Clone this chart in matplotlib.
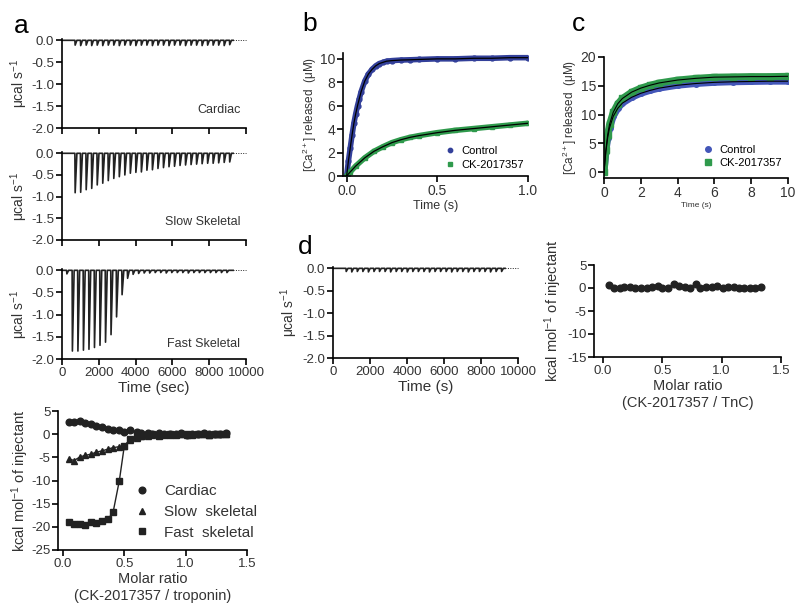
import numpy as np
import matplotlib
matplotlib.use("Agg")
import matplotlib.pyplot as plt

plt.rcParams['font.family'] = ['Liberation Sans', 'DejaVu Sans']
plt.rcParams['mathtext.default'] = 'regular'
plt.rcParams['axes.unicode_minus'] = False

# --- panel a: ITC thermograms (injection time in s, peak heat rate in ucal/s)
inj_times = [700, 1000, 1300, 1600, 1900, 2200, 2500, 2800, 3100, 3400,
             3700, 4000, 4300, 4600, 4900, 5200, 5500, 5800, 6100, 6400,
             6700, 7000, 7300, 7600, 7900, 8200, 8500, 8800, 9100]
cardiac_peaks = [-0.11, -0.12, -0.11, -0.12, -0.11, -0.12, -0.11, -0.11, -0.12, -0.11,
                 -0.11, -0.12, -0.11, -0.11, -0.12, -0.11, -0.11, -0.12, -0.11, -0.11,
                 -0.12, -0.11, -0.11, -0.12, -0.11, -0.11, -0.11, -0.12, -0.10]
slow_peaks = [-0.91, -0.90, -0.84, -0.81, -0.73, -0.69, -0.63, -0.58, -0.54, -0.50,
              -0.46, -0.44, -0.43, -0.39, -0.38, -0.35, -0.33, -0.31, -0.30, -0.28,
              -0.27, -0.26, -0.25, -0.24, -0.23, -0.23, -0.22, -0.21, -0.20]
fast_times = [250, 550, 850, 1150, 1450, 1750, 2050, 2350, 2650, 2950,
              3250, 3550, 3850, 4150, 4450, 4750, 5050, 5350, 5650, 5950,
              6250, 6550, 6850, 7150, 7450, 7750, 8050, 8350, 8650, 8950]
fast_peaks = [-0.08, -1.82, -1.82, -1.80, -1.78, -1.74, -1.69, -1.62, -1.45, -1.05,
              -0.55, -0.18, -0.09, -0.07, -0.06, -0.06, -0.05, -0.05, -0.06, -0.05,
              -0.05, -0.05, -0.06, -0.05, -0.05, -0.05, -0.05, -0.05, -0.05, -0.05]
d_peaks = [-0.07, -0.08, -0.07, -0.07, -0.08, -0.07, -0.07, -0.07, -0.08, -0.07,
           -0.07, -0.08, -0.07, -0.07, -0.07, -0.08, -0.07, -0.07, -0.07, -0.08,
           -0.07, -0.07, -0.08, -0.07, -0.07, -0.07, -0.08, -0.07, -0.07]

# --- isotherms (molar ratio vs kcal/mol of injectant)
ratio = [0.05, 0.09, 0.14, 0.18, 0.23, 0.27, 0.32, 0.37, 0.41, 0.46,
         0.50, 0.55, 0.60, 0.64, 0.69, 0.73, 0.78, 0.82, 0.87, 0.92,
         0.96, 1.01, 1.05, 1.10, 1.15, 1.19, 1.24, 1.28, 1.33]
cardiac_iso = [2.7, 2.6, 2.8, 2.5, 2.2, 1.8, 1.5, 1.2, 1.0, 0.8,
               0.5, 0.9, 0.4, 0.2, 0.3, 0.1, 0.2, 0.0, 0.1, 0.0,
               0.2, -0.1, 0.0, 0.1, 0.3, 0.0, 0.1, 0.0, 0.2]
slow_iso = [-5.3, -5.7, -4.9, -4.6, -4.3, -3.9, -3.6, -3.2, -2.9, -2.7,
            -2.5, -1.2, -0.8, -0.5, -0.3, -0.2, -0.1, 0.0, -0.2, 0.0,
            0.1, -0.1, 0.0, 0.1, 0.0, -0.1, 0.1, 0.0, 0.1]
fast_iso = [-19.0, -19.4, -19.3, -19.7, -19.0, -19.2, -18.8, -18.3, -16.7, -10.0,
            -2.6, -1.0, -0.6, -0.3, -0.2, 0.0, -0.3, -0.1, 0.0, -0.2,
            0.1, 0.0, -0.1, 0.0, 0.1, -0.1, 0.0, 0.0, 0.1]
tnc_iso = [0.6, 0.0, 0.1, 0.2, 0.3, 0.0, 0.1, 0.0, 0.3, 0.5,
           0.1, 0.0, 0.8, 0.4, 0.2, 0.0, 0.8, 0.1, 0.3, 0.3,
           0.5, 0.0, 0.2, 0.3, 0.1, 0.0, 0.1, 0.0, 0.2]

# --- panel b: stopped-flow Ca2+ release (uM)
tb = [0.0, 0.01, 0.02, 0.03, 0.04, 0.05, 0.06, 0.07, 0.08, 0.10, 0.12, 0.14,
      0.16, 0.18, 0.20, 0.22, 0.25, 0.30, 0.35, 0.40, 0.50, 0.60, 0.70, 0.80, 0.90, 1.0]
b_ctrl = [0.0, 1.3, 2.4, 3.5, 4.5, 5.3, 6.0, 6.6, 7.2, 8.1, 8.7, 9.1,
          9.4, 9.6, 9.7, 9.8, 9.85, 9.9, 9.92, 9.95, 10.0, 10.0, 10.05, 10.05, 10.1, 10.1]
tb2 = [0.0, 0.02, 0.05, 0.10, 0.15, 0.20, 0.25, 0.30, 0.35, 0.40, 0.50, 0.60,
       0.70, 0.80, 0.90, 1.0]
b_ck = [0.0, 0.35, 0.85, 1.55, 2.1, 2.5, 2.85, 3.1, 3.3, 3.45, 3.7, 3.9,
        4.05, 4.2, 4.35, 4.5]

# --- panel c
tc = [0, 0.1, 0.2, 0.3, 0.5, 0.75, 1, 1.5, 2, 2.5, 3, 4, 5, 6, 7, 8, 9, 10]
c_ctrl = [0, 3.5, 6.0, 7.7, 9.7, 11.1, 12.0, 13.0, 13.7, 14.2, 14.6, 15.1,
          15.4, 15.6, 15.7, 15.75, 15.8, 15.8]
c_ck = [0, 3.8, 6.5, 8.3, 10.4, 11.9, 12.8, 13.9, 14.6, 15.1, 15.5, 16.0,
        16.3, 16.5, 16.55, 16.6, 16.6, 16.65]

blue = '#33409a'
blue_c = '#4356b8'
green = '#2f9a4c'
ink = '#222222'

W, H = 800, 616
fig = plt.figure(figsize=(8, 6.16), dpi=100)


def add_ax(left, right, top, bottom):
    return fig.add_axes([left / W, 1 - bottom / H, (right - left) / W, (bottom - top) / H])


def style(ax, fs=9.5):
    for s in ['top', 'right']:
        ax.spines[s].set_visible(False)
    for s in ['left', 'bottom']:
        ax.spines[s].set_linewidth(1.2)
    ax.tick_params(direction='out', length=4, width=1.2, labelsize=fs, pad=1.5,
                   labelcolor='#333333')


def ylab_at(ax, text, px, left, right, fs=10):
    # px = pixel x of the label's centre
    ax.set_ylabel(text, fontsize=fs, color='#333333')
    ax.yaxis.set_label_coords((px + 5 + fs * 0.76 - left) / (right - left), 0.5)


def thermogram(ax, times, peaks, end=9300):
    xs, ys = [0], [0]
    for t, p in zip(times, peaks):
        xs += [t, t + 15, t + 110]
        ys += [0, p, 0]
    xs.append(end)
    ys.append(0)
    ax.plot(xs, ys, color=ink, lw=1.2)
    ax.plot([end, 10000], [0, 0], color=ink, lw=0.7, ls=(0, (1, 1.5)), clip_on=False)
    ax.set_xlim(0, 10000)
    ax.set_ylim(-2.0, 0.03)
    ax.set_yticks([0.0, -0.5, -1.0, -1.5, -2.0])
    ax.set_yticklabels(['0.0', '-0.5', '-1.0', '-1.5', '-2.0'])
    ax.set_xticks([0, 2000, 4000, 6000, 8000, 10000])
    style(ax)


# panel a thermograms
a1 = add_ax(62, 246, 39, 128)
thermogram(a1, inj_times, cardiac_peaks)
a1.set_xticklabels([])
ylab_at(a1, 'μcal s$^{-1}$', 17, 62, 246)
a1.text(0.97, 0.2, 'Cardiac', transform=a1.transAxes, ha='right', va='center',
        fontsize=9, color='#333333')

a2 = add_ax(62, 246, 152, 240)
thermogram(a2, inj_times, slow_peaks)
a2.set_xticklabels([])
ylab_at(a2, 'μcal s$^{-1}$', 17, 62, 246)
a2.text(0.97, 0.2, 'Slow Skeletal', transform=a2.transAxes, ha='right', va='center',
        fontsize=9, color='#333333')

a3 = add_ax(62, 246, 269, 359)
thermogram(a3, fast_times, fast_peaks)
a3.set_xticklabels(['0', '2000', '4000', '6000', '8000', '10000'])
ylab_at(a3, 'μcal s$^{-1}$', 17, 62, 246)
a3.set_xlabel('Time (sec)', fontsize=11, labelpad=2, color='#333333')
a3.text(0.97, 0.17, 'Fast Skeletal', transform=a3.transAxes, ha='right', va='center',
        fontsize=9, color='#333333')

# panel a isotherm
a4 = add_ax(58, 247, 411, 550)
a4.plot(ratio, cardiac_iso, color=ink, lw=1, marker='o', ms=4.8, label='Cardiac')
a4.plot(ratio, slow_iso, color=ink, lw=1, marker='^', ms=4.8, label='Slow  skeletal')
a4.plot(ratio, fast_iso, color=ink, lw=1, marker='s', ms=4.8, label='Fast  skeletal')
a4.set_xlim(-0.04, 1.5)
a4.set_ylim(-25, 5)
a4.set_xticks([0.0, 0.5, 1.0, 1.5])
a4.set_xticklabels(['0.0', '0.5', '1.0', '1.5'])
a4.set_yticks([5, 0, -5, -10, -15, -20, -25])
style(a4)
a4.set_xlabel('Molar ratio\n(CK-2017357 / troponin)', fontsize=10.5, labelpad=2,
              linespacing=1.2, color='#333333')
ylab_at(a4, 'kcal mol$^{-1}$ of injectant', 18, 58, 247, fs=10.5)
lg = a4.legend(loc='upper left', bbox_to_anchor=((137 - 58) / 189, (550 - 484) / 139),
               frameon=False, fontsize=11, borderpad=0, borderaxespad=0,
               handlelength=0.6, handletextpad=1.2, labelspacing=0.45)
for h in lg.get_lines():
    h.set_linestyle('none')
for t in lg.get_texts():
    t.set_color('#333333')

# panel b
b = add_ax(343, 528, 53, 176)
b.plot(tb, b_ctrl, color=blue, lw=4, marker='o', ms=3.5, label='Control', solid_capstyle='round')
b.plot(tb2, b_ck, color=green, lw=4, marker='s', ms=3.5, label='CK-2017357', solid_capstyle='round')
b.plot(tb, b_ctrl, color='black', lw=0.9)
b.plot(tb2, b_ck, color='black', lw=0.9)
b.set_xlim(-0.02, 1.0)
b.set_ylim(0, 10.5)
b.set_xticks([0.0, 0.5, 1.0])
b.set_xticklabels(['0.0', '0.5', '1.0'])
b.set_yticks([0, 2, 4, 6, 8, 10])
style(b, fs=10)
b.set_xlabel('Time (s)', fontsize=9, labelpad=2, color='#333333')
ylab_at(b, '[Ca$^{2+}$] released  (μM)', 308, 343, 528, fs=8.5)
lg = b.legend(loc='lower right', bbox_to_anchor=(1.03, -0.03), frameon=False, fontsize=8,
              handlelength=0.8, handletextpad=0.6, labelspacing=0.3, markerscale=0.9)
for h in lg.get_lines():
    h.set_linestyle('none')

# panel c
c = add_ax(604, 788, 57, 178)
c.plot(tc, c_ctrl, color=blue_c, lw=5, marker='o', ms=4, label='Control', solid_capstyle='round')
c.plot(tc, c_ck, color=green, lw=5, marker='s', ms=4, label='CK-2017357', solid_capstyle='round')
c.plot(tc, c_ctrl, color='black', lw=0.8)
c.plot(tc, c_ck, color='black', lw=0.8)
c.set_xlim(0, 10)
c.set_ylim(-1, 20)
c.set_xticks([0, 2, 4, 6, 8, 10])
c.set_yticks([0, 5, 10, 15, 20])
style(c, fs=10)
c.set_xlabel('Time (s)', fontsize=6, labelpad=2, color='#333333')
ylab_at(c, '[Ca$^{2+}$] released  (μM)', 568, 604, 788, fs=8.5)
lg = c.legend(loc='lower right', bbox_to_anchor=(1.02, 0.0), frameon=False, fontsize=8,
              handlelength=0.8, handletextpad=0.6, labelspacing=0.3, markerscale=1.0)
for h in lg.get_lines():
    h.set_linestyle('none')

# panel d thermogram
d1 = add_ax(333, 518, 267, 358)
thermogram(d1, inj_times, d_peaks)
d1.set_xticklabels(['0', '2000', '4000', '6000', '8000', '10000'])
d1.set_xlabel('Time (s)', fontsize=11, labelpad=2, color='#333333')
ylab_at(d1, 'μcal s$^{-1}$', 287, 333, 518)

# panel d isotherm
d2 = add_ax(594, 781, 265, 357)
d2.plot(ratio, tnc_iso, color=ink, lw=1, marker='o', ms=4.8)
d2.set_xlim(-0.075, 1.5)
d2.set_ylim(-15, 5)
d2.set_xticks([0.0, 0.5, 1.0, 1.5])
d2.set_xticklabels(['0.0', '0.5', '1.0', '1.5'])
d2.set_yticks([5, 0, -5, -10, -15])
style(d2)
d2.set_xlabel('Molar ratio\n(CK-2017357 / TnC)', fontsize=10.5, labelpad=2,
              linespacing=1.2, color='#333333')
ylab_at(d2, 'kcal mol$^{-1}$ of injectant', 551, 594, 781, fs=10.5)

# panel letters
for s, x, y in [('a', 14, 26), ('b', 302, 24), ('c', 572, 24), ('d', 298, 247)]:
    fig.text(x / W, 1 - y / H, s, fontsize=19, ha='left', va='center')

fig.savefig('out.png', dpi=100)
